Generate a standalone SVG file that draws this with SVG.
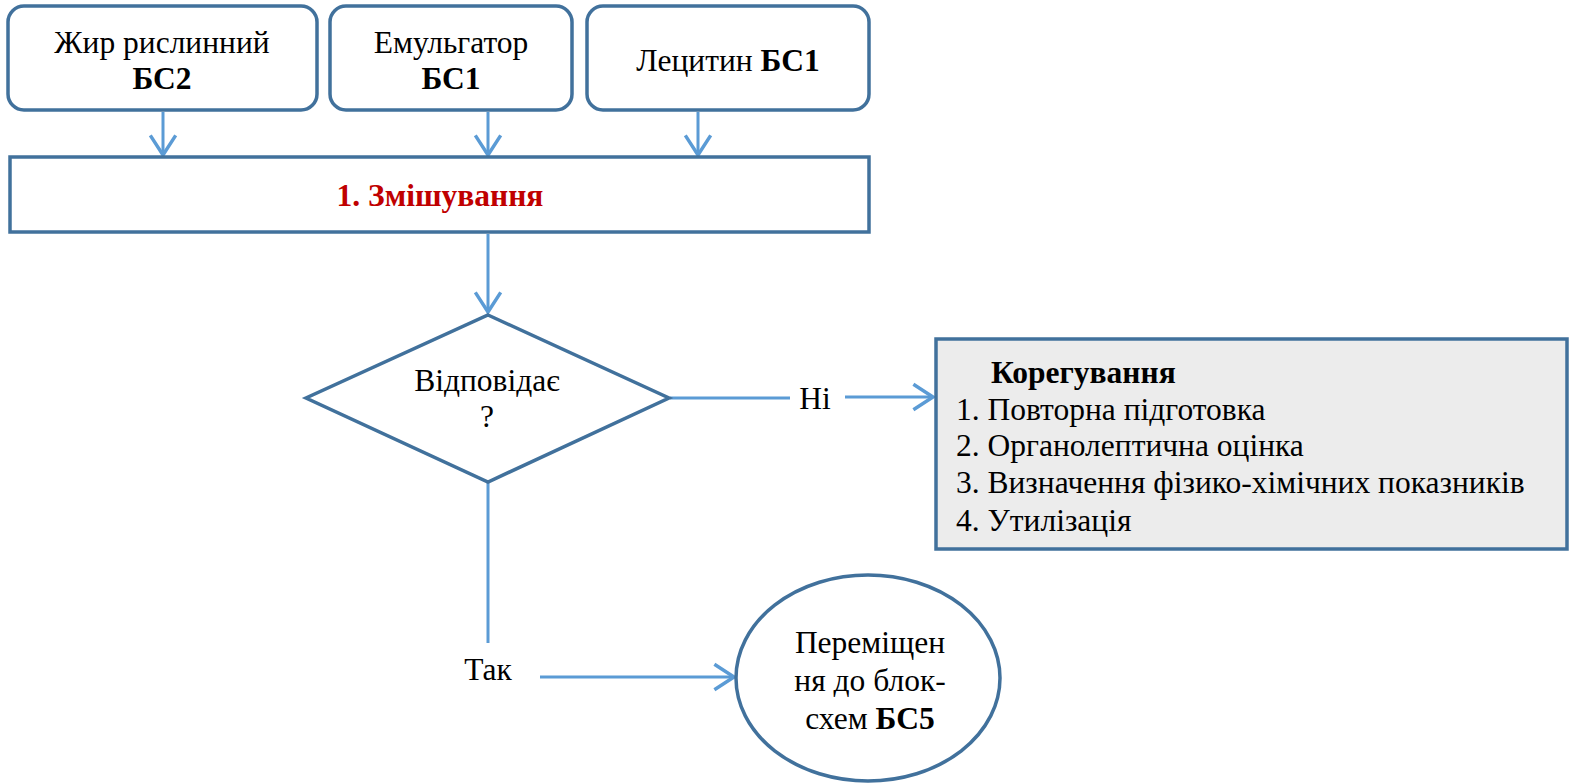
<svg xmlns="http://www.w3.org/2000/svg" width="1570" height="784" viewBox="0 0 1570 784">
<style>
.node{fill:#fff;stroke:#41719C;stroke-width:3.5}
.gray{fill:#ECECEC}
.con{fill:none;stroke:#5B9BD5;stroke-width:3}
.t{font-family:'Liberation Serif','DejaVu Serif',serif;font-size:31.5px;fill:#000}
.c{text-anchor:middle}
.b{font-weight:bold}
.red{fill:#C00000;font-weight:bold}
</style>
<defs>
<marker id="arr" markerUnits="userSpaceOnUse" markerWidth="30" markerHeight="30" viewBox="-20 -13 22 26" refX="0" refY="0" orient="auto">
<path d="M-17,-11 L0,0 L-17,11" fill="none" stroke="#5B9BD5" stroke-width="3"/>
</marker>
</defs>
<g id="connectors">
<line class="con" x1="163" y1="112" x2="163" y2="155" marker-end="url(#arr)"/>
<line class="con" x1="488" y1="112" x2="488" y2="155" marker-end="url(#arr)"/>
<line class="con" x1="698" y1="112" x2="698" y2="155" marker-end="url(#arr)"/>
<line class="con" x1="488" y1="234" x2="488" y2="312" marker-end="url(#arr)"/>
<line class="con" x1="670" y1="398" x2="790" y2="398"/>
<line class="con" x1="845" y1="397" x2="933" y2="397" marker-end="url(#arr)"/>
<text x="815" y="409" class="t c">Ні</text>
<line class="con" x1="488" y1="482" x2="488" y2="643"/>
<text x="488" y="680" class="t c">Так</text>
<line class="con" x1="540" y1="677" x2="734" y2="677" marker-end="url(#arr)"/>
</g>
<g id="n-fat">
<rect class="node" x="8" y="6" width="309" height="104" rx="16"/>
<text x="162" y="53" class="t c">Жир рислинний</text>
<text x="162" y="89" class="t c b">БС2</text>
</g>
<g id="n-emulsifier">
<rect class="node" x="330" y="6" width="242" height="104" rx="16"/>
<text x="451" y="53" class="t c">Емульгатор</text>
<text x="451" y="89" class="t c b">БС1</text>
</g>
<g id="n-lecithin">
<rect class="node" x="587" y="6" width="282" height="104" rx="16"/>
<text x="728" y="71" class="t c">Лецитин <tspan class="b">БС1</tspan></text>
</g>
<g id="n-mixing">
<rect class="node" x="10" y="157" width="859" height="75"/>
<text x="440" y="206" class="t c red">1. Змішування</text>
</g>
<g id="n-decision">
<polygon class="node" points="488,315 669,398 488,482 306,398"/>
<text x="487" y="391" class="t c">Відповідає</text>
<text x="487" y="427" class="t c">?</text>
</g>
<g id="n-correction">
<rect class="node gray" x="936" y="339" width="631" height="210"/>
<text x="991" y="383" class="t b">Корегування</text>
<text x="956" y="420" class="t">1. Повторна підготовка</text>
<text x="956" y="456" class="t">2. Органолептична оцінка</text>
<text x="956" y="493" class="t">3. Визначення фізико-хімічних показників</text>
<text x="956" y="531" class="t">4. Утилізація</text>
</g>
<g id="n-move">
<ellipse class="node" cx="868" cy="678" rx="132" ry="103"/>
<text x="870" y="653" class="t c">Переміщен</text>
<text x="870" y="691" class="t c">ня до блок-</text>
<text x="870" y="729" class="t c">схем <tspan class="b">БС5</tspan></text>
</g>
</svg>
